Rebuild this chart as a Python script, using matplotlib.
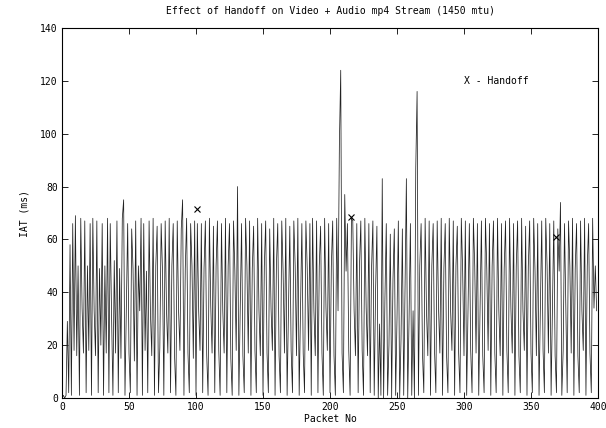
import numpy as np
import matplotlib
matplotlib.use("Agg")
import matplotlib.pyplot as plt

# IAT values (ms) per packet
iat = [
    0, 1, 0, 1, 29, 2, 58, 1, 66, 18, 69, 16, 50, 1, 68, 34, 17, 67, 2, 50,
    18, 66, 1, 68, 33, 16, 67, 2, 49, 20, 66, 1, 50, 17, 68, 2, 66, 31, 1, 52,
    17, 67, 2, 49, 15, 68, 75, 1, 33, 66, 17, 2, 64, 49, 14, 67, 1, 50, 33, 68,
    1, 66, 18, 48, 2, 67, 32, 16, 68, 1, 50, 65, 2, 19, 66, 48, 1, 67, 33, 17,
    68, 2, 50, 66, 16, 1, 67, 33, 18, 64, 75, 1, 49, 68, 17, 2, 66, 50, 15, 67,
    1, 66, 33, 18, 66, 2, 49, 67, 16, 1, 68, 35, 17, 65, 2, 50, 67, 18, 1, 66,
    33, 17, 68, 2, 50, 66, 15, 1, 67, 48, 18, 80, 1, 33, 66, 16, 2, 68, 50, 17,
    67, 1, 49, 65, 18, 2, 68, 33, 16, 66, 1, 50, 67, 17, 2, 64, 34, 18, 68, 1,
    50, 66, 16, 2, 67, 48, 17, 68, 1, 33, 65, 18, 2, 67, 50, 16, 68, 1, 34, 66,
    17, 2, 67, 49, 18, 66, 1, 68, 33, 16, 67, 2, 50, 65, 17, 1, 68, 34, 18, 66,
    2, 50, 67, 16, 1, 68, 33, 96, 124, 17, 2, 77, 48, 66, 18, 1, 68, 67, 33, 16,
    66, 2, 50, 67, 18, 1, 68, 34, 16, 66, 2, 49, 67, 1, 40, 65, 0, 28, 1, 83,
    0, 38, 66, 1, 20, 62, 0, 45, 64, 1, 30, 67, 0, 22, 64, 1, 42, 83, 0, 30,
    66, 1, 33, 0, 87, 116, 1, 50, 66, 17, 2, 68, 33, 16, 67, 1, 50, 66, 18, 2,
    67, 34, 17, 68, 1, 49, 66, 16, 2, 68, 33, 18, 67, 1, 50, 65, 17, 2, 68, 48,
    16, 67, 1, 33, 66, 18, 2, 68, 50, 17, 66, 1, 34, 67, 16, 2, 68, 49, 18, 66,
    1, 50, 67, 17, 2, 68, 33, 16, 66, 1, 49, 67, 18, 2, 68, 34, 17, 66, 1, 50,
    67, 16, 2, 68, 33, 18, 65, 1, 50, 67, 17, 2, 68, 48, 16, 66, 1, 34, 67, 18,
    2, 68, 50, 17, 66, 1, 33, 67, 16, 2, 64, 48, 74, 1, 18, 66, 33, 2, 67, 50,
    17, 68, 1, 49, 66, 16, 2, 67, 33, 18, 68, 1, 50, 66, 17, 2, 68, 34, 50, 33,
]
packets = np.arange(len(iat))

# handoff points
handoff_x = [101, 216, 369]
handoff_y = [71.5, 68.5, 61]

fig = plt.figure(figsize=(6.06, 4.28), dpi=100)
ax = fig.add_axes([62 / 606, 1 - 398 / 428, 536 / 606, 370 / 428])

font = "DejaVu Sans Mono"
ax.plot(packets, iat, color="#222222", linewidth=0.55)
ax.plot(handoff_x, handoff_y, linestyle="none", marker="x", color="black",
        markersize=5, markeredgewidth=0.8)
ax.text(300, 120, "X - Handoff", fontsize=7, family=font, va="center")

ax.set_xlim(0, 400)
ax.set_ylim(0, 140)
ax.set_xticks(range(0, 401, 50))
ax.set_yticks(range(0, 141, 20))
ax.tick_params(direction="in", top=True, right=True, length=4, width=0.6,
               labelsize=7, pad=3)
for lbl in ax.get_xticklabels() + ax.get_yticklabels():
    lbl.set_family(font)
for sp in ax.spines.values():
    sp.set_linewidth(0.8)

ax.set_title("Effect of Handoff on Video + Audio mp4 Stream (1450 mtu)",
             fontsize=7, family=font, pad=10)
ax.set_xlabel("Packet No", fontsize=7, family=font, labelpad=1)
ax.set_ylabel("IAT (ms)", fontsize=7, family=font, labelpad=8)

fig.savefig("out.png", dpi=100)
